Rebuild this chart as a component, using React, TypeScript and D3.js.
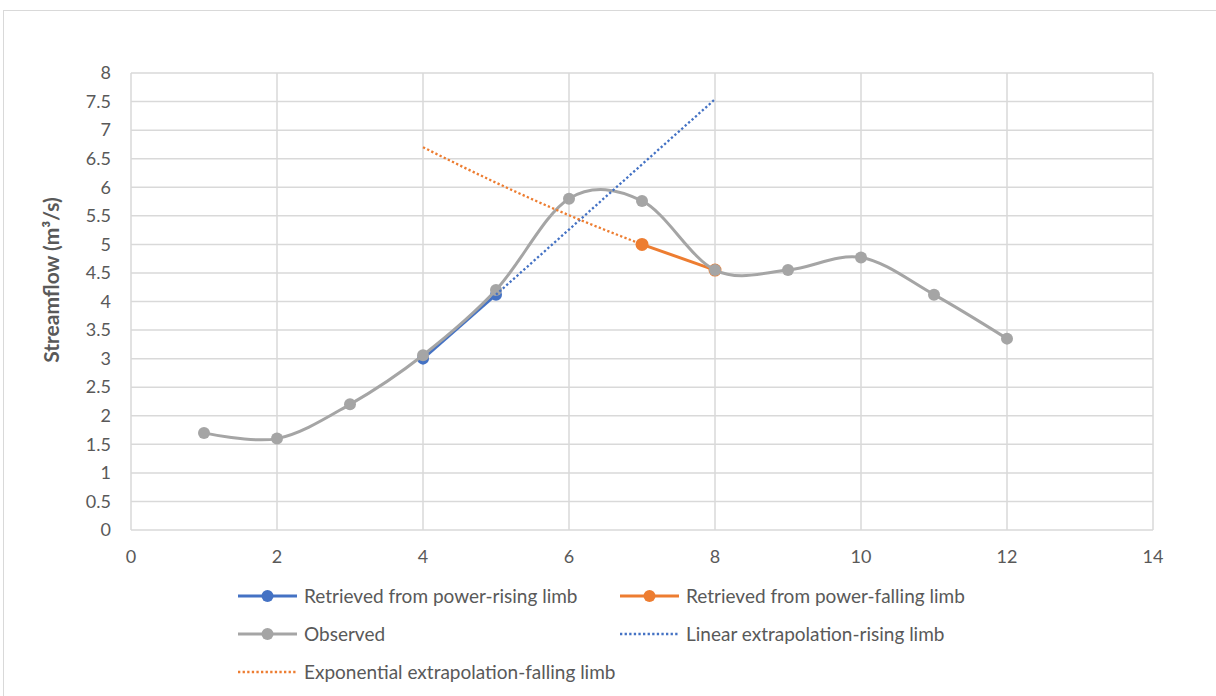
import React from "react";
import * as d3 from "d3";

const obsX = [1, 2, 3, 4, 5, 6, 7, 8, 9, 10, 11, 12];
const obsY = [1.7, 1.6, 2.2, 3.06, 4.2, 5.8, 5.76, 4.55, 4.55, 4.77, 4.12, 3.35];
const riseX = [4, 5];
const riseY = [3.0, 4.12];
const fallX = [7, 8];
const fallY = [5.0, 4.55];
const linX = [5, 6, 7, 8];
const linY = [4.12, 5.26, 6.4, 7.54];
const expX = [4, 5, 6, 7];
const expY = [6.7, 6.08, 5.51, 5.0];
const xTicks = [0, 2, 4, 6, 8, 10, 12, 14];
const yTicks = [0, 0.5, 1, 1.5, 2, 2.5, 3, 3.5, 4, 4.5, 5, 5.5, 6, 6.5, 7, 7.5, 8];

const BLUE = "#4472C4";
const ORANGE = "#ED7D31";
const GRAY = "#A5A5A5";
const GRID = "#D9D9D9";
const TXT = "#595959";
const FONT = "Lato, 'Open Sans', sans-serif";

export default function App() {
  const W = 1216, H = 696;
  const L = 131, R = 1153, T = 73, B = 530;
  const x = d3.scaleLinear().domain([0, 14]).range([L, R]);
  const y = d3.scaleLinear().domain([0, 8]).range([B, T]);
  const pts = (xs: number[], ys: number[]) => xs.map((v, i) => [v, ys[i]] as [number, number]);
  const straight = d3.line<[number, number]>().x(d => x(d[0])).y(d => y(d[1]));
  const smooth = d3.line<[number, number]>().x(d => x(d[0])).y(d => y(d[1])).curve(d3.curveCatmullRom.alpha(0));
  const expLine = d3.line<[number, number]>().x(d => x(d[0])).y(d => y(d[1])).curve(d3.curveMonotoneX);

  const legend = [
    { label: "Retrieved from power-rising limb", color: BLUE, dotted: false, lx: 238, ly: 596 },
    { label: "Retrieved from power-falling limb", color: ORANGE, dotted: false, lx: 620, ly: 596 },
    { label: "Observed", color: GRAY, dotted: false, lx: 238, ly: 634 },
    { label: "Linear extrapolation-rising limb", color: BLUE, dotted: true, lx: 620, ly: 634 },
    { label: "Exponential extrapolation-falling limb", color: ORANGE, dotted: true, lx: 238, ly: 672 },
  ];

  return (
    <svg width={W} height={H} style={{ position: "absolute", left: 0, top: 0, background: "#fff" }} fontFamily={FONT}>
      <rect x={3.5} y={10.5} width={W + 10} height={H + 10} fill="#fff" stroke={GRID} strokeWidth={1} />
      {xTicks.map(t => (
        <line key={"gx" + t} x1={x(t)} x2={x(t)} y1={T} y2={B} stroke={GRID} strokeWidth={1.5} />
      ))}
      {yTicks.map(t => (
        <line key={"gy" + t} x1={L} x2={R} y1={y(t)} y2={y(t)} stroke={GRID} strokeWidth={1.5} />
      ))}
      {yTicks.map(t => (
        <text key={"ty" + t} x={L - 20} y={y(t)} dy="0.35em" textAnchor="end" fontSize={18} fill={TXT}>{t}</text>
      ))}
      {xTicks.map(t => (
        <text key={"tx" + t} x={x(t)} y={B + 27} dy="0.35em" textAnchor="middle" fontSize={18} fill={TXT}>{t}</text>
      ))}
      <text transform={`translate(52,280) rotate(-90)`} textAnchor="middle" dy="0.35em" fontSize={21} fontWeight="bold" fill={TXT}>Streamflow (m³/s)</text>

      <path d={straight(pts(riseX, riseY)) || ""} fill="none" stroke={BLUE} strokeWidth={3} />
      {riseX.map((v, i) => <circle key={"rb" + i} cx={x(v)} cy={y(riseY[i])} r={6} fill={BLUE} />)}
      <path d={straight(pts(fallX, fallY)) || ""} fill="none" stroke={ORANGE} strokeWidth={3} />
      {fallX.map((v, i) => <circle key={"fo" + i} cx={x(v)} cy={y(fallY[i])} r={6.5} fill={ORANGE} />)}
      <path d={smooth(pts(obsX, obsY)) || ""} fill="none" stroke={GRAY} strokeWidth={3} />
      {obsX.map((v, i) => <circle key={"ob" + i} cx={x(v)} cy={y(obsY[i])} r={6} fill={GRAY} />)}
      <path d={straight(pts(linX, linY)) || ""} fill="none" stroke={BLUE} strokeWidth={2.3} strokeDasharray="2.3 2.3" />
      <path d={expLine(pts(expX, expY)) || ""} fill="none" stroke={ORANGE} strokeWidth={2.3} strokeDasharray="2.3 2.3" />

      {legend.map((g, i) => (
        <g key={"lg" + i}>
          <line x1={g.lx} x2={g.lx + 59} y1={g.ly} y2={g.ly} stroke={g.color} strokeWidth={g.dotted ? 2.3 : 3} strokeDasharray={g.dotted ? "2.3 2.3" : undefined} />
          {!g.dotted && <circle cx={g.lx + 29.5} cy={g.ly} r={6} fill={g.color} />}
          <text x={g.lx + 66} y={g.ly} dy="0.35em" fontSize={19} fill={TXT}>{g.label}</text>
        </g>
      ))}
    </svg>
  );
}
